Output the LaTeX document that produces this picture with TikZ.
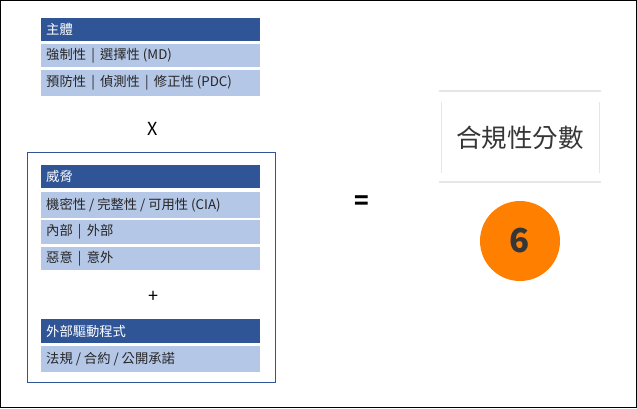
\documentclass[tikz,border=0pt]{standalone}
\usepackage{fontspec}
\setmainfont{Noto Sans CJK TC}
\definecolor{hdrblue}{HTML}{2F5597}
\definecolor{rowblue}{HTML}{B4C7E7}
\definecolor{txtdark}{HTML}{262626}
\definecolor{titlegray}{HTML}{363636}
\definecolor{linegray}{HTML}{E7E6E6}
\definecolor{scoreorange}{HTML}{FF8000}
\begin{document}
\begin{tikzpicture}[x=1pt,y=-1pt,
  hdr/.style={fill=hdrblue,text=white,font=\fontsize{13.3}{15}\selectfont},
  rowc/.style={fill=rowblue,text=txtdark,font=\fontsize{13.3}{15}\selectfont},
  opsym/.style={font=\fontsize{18}{20}\selectfont,text=black}]
\path[use as bounding box] (0,0) rectangle (637,408);
\draw[black,line width=1pt] (0.5,0.5) rectangle (636.5,407.5);
% bars
\newcommand{\mybar}[5]{% name, y1, y2, style, text
  \path[#4] (41,#2) rectangle (260,#3);
  \node[anchor=west,inner sep=0pt,#4,fill=none] (#1) at (46,{(#2+#3)/2}) {#5};}
\mybar{h1}{18}{41}{hdr}{主體}
\mybar{r1}{44}{67}{rowc}{強制性 \,|\, 選擇性 (MD)}
\mybar{r2}{70}{96}{rowc}{預防性 \,|\, 偵測性 \,|\, 修正性 (PDC)}
\node[opsym] (times) at (153,129) {X};
% framed box
\draw[hdrblue,line width=0.9pt] (27,152) rectangle (275,382);
\mybar{h2}{165}{188}{hdr}{威脅}
\mybar{r3}{192}{218}{rowc}{機密性 / 完整性 / 可用性 (CIA)}
\mybar{r4}{220}{244}{rowc}{內部 \,|\, 外部}
\mybar{r5}{247}{270}{rowc}{惡意 \,|\, 意外}
\node[opsym] (plus) at (153,297) {+};
\mybar{h3}{319}{343}{hdr}{外部驅動程式}
\mybar{r6}{346}{372}{rowc}{法規 / 合約 / 公開承諾}
\node[font=\bfseries\fontsize{24}{26}\selectfont] (eq) at (362,203) {=};
% score panel
\draw[linegray,line width=2pt] (439,91) -- (601,91);
\draw[linegray,line width=2pt] (439,182) -- (601,182);
\draw[linegray,line width=1pt] (441,102) -- (441,173);
\draw[linegray,line width=1pt] (599,102) -- (599,173);
\node[text=titlegray,font=\fontsize{25.5}{28}\selectfont] (title) at (520,138) {合規性分數};
\node[circle,fill=scoreorange,minimum size=80pt,inner sep=0pt,text=titlegray,font=\bfseries\fontsize{33}{36}\selectfont] (score) at (520,241) {6};
\end{tikzpicture}
\end{document}
